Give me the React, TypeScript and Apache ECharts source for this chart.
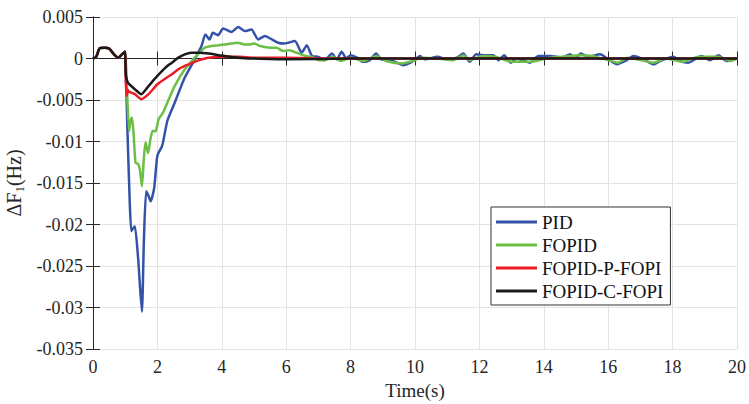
import React, { useEffect, useRef } from "react";
import * as echarts from "echarts";

const seriesNames = ["PID", "FOPID", "FOPID-P-FOPI", "FOPID-C-FOPI"];
const seriesColors = ["#3453A8", "#6DBE45", "#EE1C24", "#1A1A1A"];

const startPoints: [number, number][] = [
  [0, 0], [0.1, 0.0002], [0.2, 0.0012], [0.35, 0.0013], [0.5, 0.0012],
  [0.65, 0.0005], [0.78, 0.0001], [0.9, 0.0005], [0.99, 0.0008],
];

const pidPoints: [number, number][] = [
  [1.03, -0.003], [1.07, -0.0087], [1.14, -0.0172], [1.19, -0.0208], [1.24, -0.0205],
  [1.3, -0.0202], [1.4, -0.024], [1.46, -0.0275], [1.52, -0.0305], [1.58, -0.022],
  [1.65, -0.016], [1.72, -0.0165], [1.79, -0.0172], [1.9, -0.0156], [2.0, -0.0117],
  [2.15, -0.0105], [2.31, -0.0075], [2.54, -0.0053], [2.85, -0.0023], [3.16, -0.0001],
  [3.37, 0.0015], [3.49, 0.0029], [3.62, 0.0023], [3.72, 0.0031], [3.88, 0.0028],
  [4.04, 0.0036], [4.3, 0.0032], [4.51, 0.0038], [4.72, 0.0033], [4.92, 0.0035],
  [5.13, 0.0023], [5.34, 0.0027], [5.55, 0.0023], [5.75, 0.0019], [5.95, 0.0018],
  [6.27, 0.0021], [6.48, 0.0007], [6.64, 0.0016], [6.8, 0.0003], [7.0, 0.0002],
  [7.2, -0.0002], [7.42, 0.0006], [7.57, -0.0001], [7.72, 0.0008], [7.87, 0.0],
  [8.0, 0.0004], [8.2, 0.0001], [8.38, -0.0004], [8.6, -0.0002], [8.79, 0.0006],
  [8.95, -0.0001], [9.3, -0.0003], [9.64, -0.0008], [9.9, -0.0004], [10.16, 0.0003],
  [10.3, -0.0001], [10.7, 0.0002], [11.0, -0.0001], [11.3, 0.0001], [11.5, 0.0006],
  [11.7, -0.0004], [11.9, 0.0005], [12.12, 0.0004], [12.43, 0.0004], [12.59, -0.0002],
  [12.77, 0.0004], [12.97, -0.0005], [13.16, 0.0], [13.57, -0.0005], [13.83, 0.0003],
  [14.2, 0.0003], [14.56, 0.0001], [14.82, 0.0005], [14.97, 0.0], [15.15, 0.0006],
  [15.39, 0.0002], [15.75, 0.0005], [16.01, -0.0001], [16.27, -0.0007], [16.53, -0.0003],
  [16.79, 0.0003], [17.1, -0.0001], [17.41, -0.0007], [17.61, -0.0003], [18.03, 0.0002],
  [18.23, -0.0003], [18.49, -0.0005], [18.9, 0.0003], [19.16, -0.0002], [19.42, 0.0004],
  [19.68, -0.0003], [20, 0.0],
];

const fopidPoints: [number, number][] = [
  [1.04, -0.002], [1.07, -0.0051], [1.12, -0.0087], [1.17, -0.0075], [1.21, -0.0071],
  [1.26, -0.009], [1.32, -0.01255], [1.4, -0.0127], [1.46, -0.0135], [1.52, -0.0154],
  [1.58, -0.012], [1.63, -0.0101], [1.71, -0.0114], [1.78, -0.0098], [1.85, -0.0087],
  [1.94, -0.0088], [2.04, -0.0073], [2.18, -0.0065], [2.31, -0.0053], [2.54, -0.0033],
  [2.85, -0.0013], [3.16, 0.0001], [3.35, 0.0009], [3.47, 0.0013], [3.68, 0.0015],
  [3.9, 0.0016], [4.1, 0.0017], [4.3, 0.0018], [4.5, 0.0019], [4.7, 0.0017],
  [4.87, 0.0017], [5.0, 0.0018], [5.2, 0.0015], [5.5, 0.0013], [5.7, 0.0013],
  [5.9, 0.0009], [6.1, 0.001], [6.32, 0.0007], [6.6, 0.0003], [6.8, 0.0002],
  [7.0, -0.0002], [7.2, -0.0002], [7.45, 0.0002], [7.7, -0.0003], [8.0, 0.0001],
  [8.4, -0.0003], [8.8, 0.0003], [9.1, -0.0003], [9.6, -0.0006], [10.0, -0.0002],
  [10.2, 0.0001], [10.7, 0.0], [11.2, -0.0002], [11.5, 0.0004], [11.7, -0.0002],
  [12.1, 0.0003], [12.5, 0.0002], [13.0, -0.0004], [13.6, -0.0004], [14.2, 0.0001],
  [14.8, 0.0003], [15.1, 0.0004], [15.5, 0.0003], [16.0, -0.0002], [16.3, -0.0005],
  [16.6, 0.0001], [17.4, -0.0005], [17.8, 0.0], [18.3, -0.0004], [18.8, 0.0002],
  [19.4, 0.0002], [19.8, -0.0003], [20, 0.0],
];

const fopidPPoints: [number, number][] = [
  [1.02, -0.003], [1.05, -0.0045], [1.08, -0.0038], [1.12, -0.004], [1.3, -0.0043],
  [1.5, -0.0049], [1.75, -0.0042], [2.0, -0.0031], [2.25, -0.0024], [2.45, -0.0019],
  [2.65, -0.0013], [2.85, -0.0009], [3.1, -0.0005], [3.3, -0.0002], [3.6, 0.0001],
  [4.0, 0.0002], [4.5, 0.0002], [5.0, 0.0001], [6.0, 0.0001], [7.0, 0.0], [20, 0.0],
];

const fopidCPoints: [number, number][] = [
  [1.02, -0.002], [1.07, -0.0028], [1.1, -0.003], [1.3, -0.0037], [1.5, -0.0043],
  [1.75, -0.0032], [2.0, -0.0021], [2.25, -0.0011], [2.45, -0.0005], [2.65, 0.0001],
  [2.85, 0.0005], [3.05, 0.0007], [3.3, 0.0007], [3.6, 0.0006], [3.9, 0.0004],
  [4.1, 0.0003], [4.5, 0.0001], [5.0, 0.0], [6.0, -0.0001], [8.0, 0.0], [20, 0.0],
];

const seriesPoints = [pidPoints, fopidPoints, fopidPPoints, fopidCPoints];

const FONT = "Liberation Serif";

export default function App() {
  const ref = useRef<HTMLDivElement>(null);
  useEffect(() => {
    if (!ref.current) return;
    const chart = echarts.init(ref.current, null, { renderer: "svg" });
    const axisLine = { show: true, lineStyle: { color: "#262626", width: 1 } };
    const tick = { inside: true, length: 7, lineStyle: { color: "#262626" } };
    const fmt = (v: number) => String(parseFloat(v.toFixed(4)));
    chart.setOption({
      animation: false,
      backgroundColor: "#fff",
      textStyle: { fontFamily: FONT },
      grid: { left: 93, right: 12, top: 17, bottom: 55, containLabel: false, outerBoundsMode: "none" },
      legend: {
        data: seriesNames,
        orient: "vertical",
        left: 491,
        top: 207,
        icon: "rect",
        itemWidth: 41,
        itemHeight: 3,
        itemGap: 1,
        itemTextGap: 5,
        padding: [4, 7, 3, 5],
        backgroundColor: "#fff",
        borderColor: "#333",
        borderWidth: 1,
        borderRadius: 0,
        textStyle: { fontFamily: FONT, fontWeight: "normal", fontSize: 19, color: "#111", lineHeight: 22 },
      },
      xAxis: [
        {
          type: "value", min: 0, max: 20, interval: 2, position: "bottom",
          axisLine, axisTick: tick,
          axisLabel: { fontFamily: FONT, fontSize: 18, color: "#262626", margin: 9 },
          splitLine: { show: true, lineStyle: { color: "#E3E3E3", width: 1 } },
          name: "Time(s)", nameLocation: "middle", nameGap: 29,
          nameTextStyle: { fontFamily: FONT, fontSize: 19, color: "#262626" },
        },
        {
          type: "value", min: 0, max: 20, interval: 2, position: "top",
          axisLine, axisTick: tick,
          axisLabel: { show: false }, splitLine: { show: false },
        },
      ],
      yAxis: [
        {
          type: "value", min: -0.035, max: 0.005, interval: 0.005, position: "left",
          axisLine, axisTick: tick,
          axisLabel: { fontFamily: FONT, fontSize: 18, color: "#262626", margin: 10, formatter: fmt },
          splitLine: { show: true, lineStyle: { color: "#E3E3E3", width: 1 } },
          name: "ΔF{s|1}(Hz)", nameLocation: "middle", nameGap: 67, nameRotate: 90,
          nameTextStyle: {
            fontFamily: FONT, fontSize: 20, color: "#262626", lineHeight: 24,
            rich: { s: { fontFamily: FONT, fontSize: 13, lineHeight: 13, verticalAlign: "bottom", color: "#262626" } },
          },
        },
        {
          type: "value", min: -0.035, max: 0.005, interval: 0.005, position: "right",
          axisLine, axisTick: tick,
          axisLabel: { show: false }, splitLine: { show: false },
        },
      ],
      series: seriesNames.map((name, i) => ({
        name,
        type: "line",
        xAxisIndex: 0,
        yAxisIndex: 0,
        data: [...startPoints, ...seriesPoints[i]],
        showSymbol: false,
        symbol: "none",
        smooth: 0.2,
        z: 2 + i,
        lineStyle: { color: seriesColors[i], width: 2.5 },
        itemStyle: { color: seriesColors[i] },
      })),
    });
    return () => chart.dispose();
  }, []);
  return (
    <div
      ref={ref}
      style={{ position: "absolute", left: 0, top: 0, width: 749, height: 404 }}
    />
  );
}
